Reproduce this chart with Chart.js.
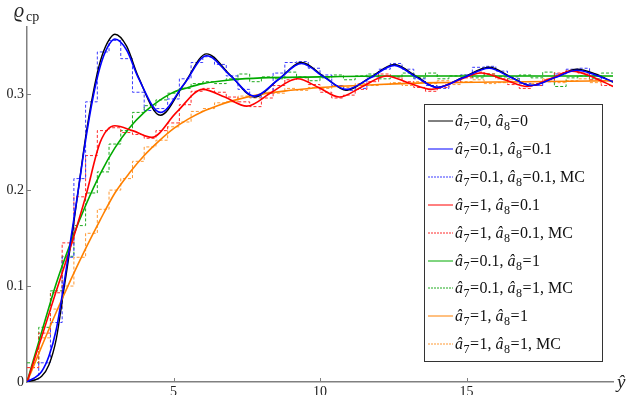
<!DOCTYPE html>
<html>
<head>
<meta charset="utf-8">
<script src="https://cdn.jsdelivr.net/npm/chart.js@4.4.1/dist/chart.umd.min.js"></script>
<style>
  html, body { margin: 0; padding: 0; background: #fff; }
  #wrap { position: relative; width: 628px; height: 395px; }
</style>
</head>
<body>
<div id="wrap"><canvas id="c" width="628" height="395"></canvas></div>
<script>
// ---- axis ticks ----
const xTickValues = [5, 10, 15];
const xTickLabels = ['5', '10', '15'];
const yTickValues = [0, 0.1, 0.2, 0.3];
const yTickLabels = ['0', '0.1', '0.2', '0.3'];

// ---- analytic curves ----
const xBlack = [0, 0.5, 0.75, 1, 1.25, 1.5, 1.75, 2, 2.25, 2.5, 2.75, 3.0, 3.4, 3.8, 4.55, 5.35, 6.13, 6.95, 7.77, 8.57, 9.37, 10.13, 10.9, 11.72, 12.54, 13.27, 14.0, 14.88, 15.77, 16.48, 17.2, 18.0, 18.77, 19.4, 20];
const yBlack = [0, 0.006, 0.018, 0.045, 0.095, 0.145, 0.2, 0.255, 0.3, 0.334, 0.354, 0.3625, 0.35, 0.318, 0.278, 0.31, 0.342, 0.3195, 0.297, 0.315, 0.333, 0.3185, 0.304, 0.3175, 0.331, 0.319, 0.307, 0.3175, 0.328, 0.3185, 0.309, 0.3175, 0.326, 0.321, 0.3125];

const xBlue = xBlack;
const yBlue = [0, 0.011, 0.027, 0.055, 0.1, 0.15, 0.2, 0.252, 0.296, 0.329, 0.349, 0.3575, 0.346, 0.317, 0.281, 0.31, 0.340, 0.319, 0.298, 0.315, 0.332, 0.318, 0.305, 0.317, 0.330, 0.318, 0.307, 0.317, 0.327, 0.318, 0.309, 0.317, 0.325, 0.320, 0.313];

const xRed = [0, 0.5, 1, 1.5, 2, 2.5, 3.0, 3.6, 4.26, 5.1, 6.0, 6.75, 7.5, 8.35, 9.23, 9.95, 10.66, 11.45, 12.27, 13.0, 13.8, 14.65, 15.5, 16.3, 17.07, 17.85, 18.6, 19.3, 20];
const yRed = [0, 0.047, 0.095, 0.142, 0.193, 0.25, 0.267, 0.262, 0.255, 0.281, 0.305, 0.297, 0.2875, 0.302, 0.316, 0.307, 0.297, 0.308, 0.319, 0.312, 0.305, 0.3135, 0.322, 0.315, 0.308, 0.316, 0.324, 0.318, 0.308];

const xGreen = [0, 0.5, 1, 1.5, 2, 2.5, 3, 3.5, 4, 4.5, 5, 5.5, 6, 7, 8, 10, 12, 15, 20];
const yGreen = [0, 0.052, 0.103, 0.146, 0.184, 0.217, 0.244, 0.265, 0.281, 0.293, 0.302, 0.307, 0.311, 0.315, 0.317, 0.318, 0.319, 0.319, 0.319];

const xOrange = [0, 0.5, 1, 1.5, 2, 2.5, 3, 3.5, 4, 4.5, 5, 5.5, 6, 6.5, 7, 8, 9, 10, 12, 14, 17, 20];
const yOrange = [0, 0.037, 0.073, 0.107, 0.139, 0.169, 0.197, 0.218, 0.236, 0.251, 0.264, 0.274, 0.282, 0.288, 0.293, 0.3, 0.304, 0.307, 0.31, 0.312, 0.313, 0.314];

// ---- Monte Carlo histograms (bin width 0.4 on [0, 20]) ----
const mcBinWidth = 0.4;
const mcBlue = [0.003, 0.02, 0.062, 0.13, 0.212, 0.292, 0.344, 0.356, 0.337, 0.302, 0.283, 0.285, 0.295, 0.316, 0.333, 0.339, 0.331, 0.319, 0.305, 0.297, 0.301, 0.322, 0.333, 0.334, 0.327, 0.32, 0.309, 0.304, 0.306, 0.318, 0.326, 0.332, 0.326, 0.316, 0.309, 0.306, 0.312, 0.32, 0.328, 0.329, 0.324, 0.318, 0.311, 0.309, 0.313, 0.321, 0.326, 0.327, 0.319, 0.314];
const mcRed = [0.015, 0.051, 0.093, 0.145, 0.193, 0.236, 0.262, 0.265, 0.26, 0.258, 0.254, 0.262, 0.27, 0.289, 0.303, 0.306, 0.302, 0.297, 0.292, 0.287, 0.296, 0.309, 0.315, 0.317, 0.31, 0.302, 0.296, 0.299, 0.305, 0.313, 0.321, 0.318, 0.313, 0.307, 0.303, 0.307, 0.312, 0.317, 0.323, 0.321, 0.316, 0.31, 0.306, 0.309, 0.315, 0.322, 0.325, 0.322, 0.315, 0.309];
const mcGreen = [0.02, 0.057, 0.095, 0.131, 0.163, 0.197, 0.219, 0.248, 0.262, 0.281, 0.288, 0.294, 0.301, 0.306, 0.311, 0.313, 0.311, 0.316, 0.321, 0.313, 0.318, 0.316, 0.323, 0.318, 0.314, 0.317, 0.32, 0.315, 0.319, 0.321, 0.316, 0.318, 0.322, 0.317, 0.322, 0.316, 0.319, 0.32, 0.317, 0.321, 0.318, 0.316, 0.32, 0.317, 0.323, 0.308, 0.317, 0.319, 0.316, 0.322];
const mcOrange = [0.015, 0.046, 0.076, 0.1, 0.13, 0.155, 0.18, 0.2, 0.212, 0.23, 0.245, 0.252, 0.266, 0.271, 0.282, 0.285, 0.291, 0.292, 0.298, 0.296, 0.302, 0.301, 0.306, 0.304, 0.307, 0.306, 0.309, 0.307, 0.311, 0.309, 0.31, 0.312, 0.309, 0.313, 0.311, 0.314, 0.31, 0.313, 0.315, 0.311, 0.312, 0.315, 0.313, 0.311, 0.316, 0.312, 0.314, 0.316, 0.312, 0.314];

const SERIF = '"Liberation Serif", "Times New Roman", "DejaVu Serif", serif';

function curve(xs, ys) {
  return xs.map((x, i) => ({ x: x, y: ys[i] }));
}
// histogram outline: one point per bin's left edge, closing point at the right edge
function histogram(bins) {
  const pts = bins.map((v, i) => ({ x: i * mcBinWidth, y: v }));
  pts.push({ x: bins.length * mcBinWidth, y: bins[bins.length - 1] });
  return pts;
}

function solid(label, color, data, order, width) {
  return {
    label, data, borderColor: color, borderWidth: width || 1.6,
    pointRadius: 0, cubicInterpolationMode: 'monotone', fill: false, order
  };
}
// 'before' keeps each bin's level across the bin, then jumps at its right edge
function dashed(label, color, data, order) {
  return {
    label, data, borderColor: color, borderWidth: 1,
    borderDash: [3, 2], stepped: 'before', pointRadius: 0, fill: false, order
  };
}

const datasets = [
  solid('â₇=0, â₈=0', '#000000', curve(xBlack, yBlack), 2, 1.4),
  solid('â₇=0.1, â₈=0.1', '#0000ff', curve(xBlue, yBlue), 1),
  dashed('â₇=0.1, â₈=0.1, MC', '#3a3aff', histogram(mcBlue), 6),
  solid('â₇=1, â₈=0.1', '#ff0000', curve(xRed, yRed), 1),
  dashed('â₇=1, â₈=0.1, MC', '#ff2a2a', histogram(mcRed), 6),
  solid('â₇=0.1, â₈=1', '#00aa00', curve(xGreen, yGreen), 1),
  dashed('â₇=0.1, â₈=1, MC', '#1faa1f', histogram(mcGreen), 6),
  solid('â₇=1, â₈=1', '#ff8000', curve(xOrange, yOrange), 1),
  dashed('â₇=1, â₈=1, MC', '#ff9933', histogram(mcOrange), 6)
];

const SUBS = { '₇': '7', '₈': '8' };
function drawRich(ctx, str, x, y) {
  for (const ch of str) {
    if (SUBS[ch]) {
      ctx.font = '12px ' + SERIF;
      ctx.fillText(SUBS[ch], x, y + 4);
      x += ctx.measureText(SUBS[ch]).width + 0.5;
    } else if (ch === 'â') {
      ctx.font = 'italic 16px ' + SERIF;
      ctx.fillText(ch, x, y);
      x += ctx.measureText(ch).width + 0.5;
    } else {
      ctx.font = '16px ' + SERIF;
      ctx.fillText(ch, x, y);
      x += ctx.measureText(ch).width + (ch === '=' ? 0.5 : 0);
    }
  }
}

const decorations = {
  id: 'decorations',
  afterDatasetsDraw(chart) {
    const ctx = chart.ctx;
    const xs = chart.scales.x, ys = chart.scales.y;
    const area = chart.chartArea;
    ctx.save();
    // inward tick marks
    ctx.strokeStyle = '#808080';
    ctx.lineWidth = 1;
    ctx.beginPath();
    xTickValues.forEach(v => {
      const px = Math.round(xs.getPixelForValue(v)) + 0.5;
      ctx.moveTo(px, area.bottom);
      ctx.lineTo(px, area.bottom - 4);
    });
    yTickValues.forEach(v => {
      if (v === 0) return;
      const py = Math.round(ys.getPixelForValue(v)) + 0.5;
      ctx.moveTo(area.left, py);
      ctx.lineTo(area.left + 4, py);
    });
    ctx.stroke();

    // axis titles
    ctx.fillStyle = '#222';
    ctx.textBaseline = 'alphabetic';
    ctx.textAlign = 'left';
    ctx.font = 'italic 20px ' + SERIF;
    ctx.fillText('ϱ', 14, 17);
    ctx.font = '14px ' + SERIF;
    ctx.fillText('cp', 26, 21);
    ctx.font = 'italic 19px ' + SERIF;
    ctx.fillText('ŷ', 617, 388);

    // legend box
    const L = { left: 424, top: 104, width: 178, height: 257, row: 27.9, first: 121 };
    ctx.fillStyle = '#fff';
    ctx.fillRect(L.left, L.top, L.width, L.height);
    ctx.strokeStyle = '#333';
    ctx.lineWidth = 1;
    ctx.strokeRect(L.left + 0.5, L.top + 0.5, L.width, L.height);
    chart.data.datasets.forEach((ds, i) => {
      const cy = L.first + i * L.row;
      ctx.strokeStyle = ds.borderColor;
      ctx.lineWidth = 1;
      ctx.setLineDash(ds.borderDash ? [2, 1] : []);
      ctx.beginPath();
      ctx.moveTo(L.left + 4, Math.round(cy));
      ctx.lineTo(L.left + 29, Math.round(cy));
      ctx.stroke();
      ctx.setLineDash([]);
      ctx.fillStyle = '#111';
      drawRich(ctx, ds.label, L.left + 31, cy + 5);
    });
    ctx.restore();
  }
};

new Chart(document.getElementById('c'), {
  type: 'line',
  data: { datasets },
  options: {
    responsive: false,
    animation: false,
    layout: { padding: { top: 27, right: 15, left: 0, bottom: 0 } },
    plugins: { legend: { display: false }, tooltip: { enabled: false } },
    scales: {
      x: {
        type: 'linear', min: 0, max: 20,
        grid: { display: false, drawTicks: false },
        border: { display: true, color: '#808080', width: 1.5 },
        ticks: {
          padding: 2, color: '#222', font: { family: SERIF, size: 14 },
          callback: (v) => xTickLabels[xTickValues.indexOf(v)]
        },
        afterBuildTicks: s => { s.ticks = xTickValues.map(v => ({ value: v })); },
        afterFit: s => { s.height = 13; }
      },
      y: {
        type: 'linear', min: 0, max: 0.37,
        grid: { display: false, drawTicks: false },
        border: { display: true, color: '#808080', width: 1.5 },
        ticks: {
          padding: 3, color: '#222', font: { family: SERIF, size: 14 },
          callback: (v) => yTickLabels[yTickValues.indexOf(v)]
        },
        afterBuildTicks: s => { s.ticks = yTickValues.map(v => ({ value: v })); },
        afterFit: s => { s.width = 27; }
      }
    }
  },
  plugins: [decorations]
});
</script>
</body>
</html>
